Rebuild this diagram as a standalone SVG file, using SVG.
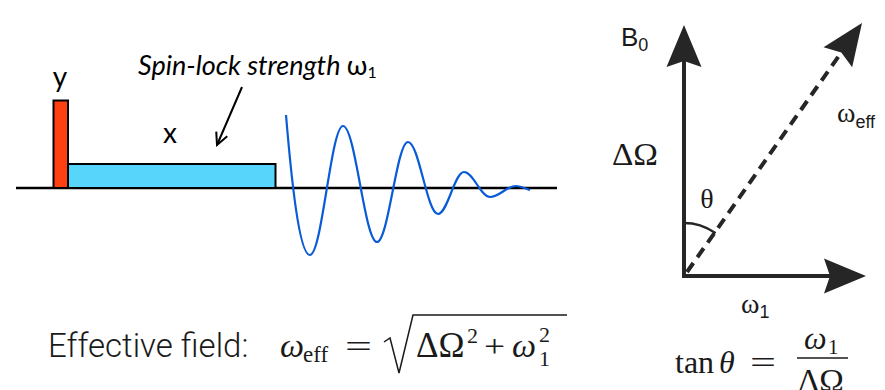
<svg xmlns="http://www.w3.org/2000/svg" width="885" height="390" viewBox="0 0 885 390">
  <style>
    .sans { font-family: "Liberation Sans", Arial, sans-serif; fill: #1a1a1a; }
    .light { font-family: Roboto, "Liberation Sans", sans-serif; font-weight: 300; fill: #1a1a1a; }
    .serif { font-family: "Liberation Serif", "DejaVu Serif", serif; fill: #1a1a1a; }
    .ital { font-style: italic; }
    .gill { font-family: Lato, "Open Sans", sans-serif; fill: #000; }
    .vec { fill: none; stroke: #262626; stroke-width: 4; }
    .pulse { stroke: #000; stroke-width: 2; }
  </style>
  <defs>
    <marker id="head" viewBox="-10 -20 50 40" markerWidth="50" markerHeight="40" refX="0" refY="0" markerUnits="userSpaceOnUse" orient="auto-start-reverse" overflow="visible">
      <path d="M36,0 L-6,-17.5 L0,0 L-6,17.5 Z" fill="#262626"/>
    </marker>
    <marker id="open" viewBox="-14 -8 16 16" markerWidth="16" markerHeight="16" refX="0" refY="0" markerUnits="userSpaceOnUse" orient="auto" overflow="visible">
      <path d="M-12,-6 L0,0 L-12,6" fill="none" stroke="#000" stroke-width="2"/>
    </marker>
  </defs>

  <!-- pulse sequence -->
  <g id="baseline">
    <line x1="16" y1="188" x2="557" y2="188" stroke="#000" stroke-width="2.5"/>
  </g>
  <g id="pulse-y">
    <rect x="53.5" y="100.5" width="14.5" height="87.5" fill="#FF4012" class="pulse"/>
    <text x="60" y="87" class="gill" font-size="28" text-anchor="middle">y</text>
  </g>
  <g id="pulse-x">
    <rect x="68" y="164" width="207.5" height="24" fill="#57D5FA" class="pulse"/>
    <text x="170" y="143" class="gill" font-size="28" text-anchor="middle">x</text>
  </g>
  <g id="spinlock-label">
    <text x="138" y="75" class="gill ital" font-size="27">Spin-lock strength <tspan font-style="normal">ω</tspan><tspan font-size="16" dy="3" font-style="normal">1</tspan></text>
  </g>
  <g id="fid">
    <path d="M286,115 C291,175 299,255 310,255 C322,255 331,126 343,126 C355.4,126 364.6,242 377,242 C388.3,242 396.7,142 408,142 C418.9,142 427.1,214 438,214 C447.5,214 454.5,172 464,172 C473.5,172 480.5,197 490,197 C499.5,197 506.5,186 516,186 C522,186 526,189 530,190" fill="none" stroke="#0A5CD6" stroke-width="2.2"/>
  </g>

  <!-- vector diagram -->
  <g id="axes">
    <path d="M684,61 L684,276 L830,276" class="vec" stroke-linejoin="miter" marker-start="url(#head)" marker-end="url(#head)"/>
    <text x="621" y="46" class="sans" font-size="26">B<tspan font-size="18" dy="5">0</tspan></text>
    <text x="612" y="165" class="serif" font-size="31" textLength="46" lengthAdjust="spacingAndGlyphs">ΔΩ</text>
    <text x="741" y="313" class="serif" font-size="28">ω<tspan class="sans" font-size="18" dy="5">1</tspan></text>
  </g>
  <g id="effective">
    <path d="M687,272 L841.3,52.4" class="vec" stroke-dasharray="11 7" marker-end="url(#head)"/>
    <text x="837" y="122" class="serif" font-size="28">ω<tspan class="sans" font-size="18" dy="6">eff</tspan></text>
  </g>
  <g id="angle">
    <path d="M684,223 A53,53 0 0 1 714.5,232.6 L711.6,236.7" fill="none" stroke="#262626" stroke-width="2.5"/>
    <text x="707" y="208" class="serif" font-size="28" text-anchor="middle">θ</text>
  </g>

  <!-- connectors -->
  <g id="connectors">
    <line x1="242" y1="87" x2="217" y2="145" stroke="#000" stroke-width="2" marker-end="url(#open)"/>
  </g>

  <!-- formulas -->
  <g id="formula-field">
    <text x="48" y="357" class="light" font-size="33">Effective field:</text>
    <text x="280" y="357" class="serif ital" font-size="34">ω</text>
    <text x="303" y="362" class="serif" font-size="23">eff</text>
    <text x="345" y="357" class="serif" font-size="32" textLength="27" lengthAdjust="spacingAndGlyphs">=</text>
    <path d="M384,342 L390,338 L399,373 L413,315 L567,315" fill="none" stroke="#1a1a1a" stroke-width="1.5"/>
    <text x="416" y="357" class="serif" font-size="35">ΔΩ</text>
    <text x="467" y="343" class="serif" font-size="22">2</text>
    <text x="484" y="357" class="serif" font-size="32" textLength="21" lengthAdjust="spacingAndGlyphs">+</text>
    <text x="512" y="357" class="serif ital" font-size="34">ω</text>
    <text x="539" y="342" class="serif" font-size="22">2</text>
    <text x="539" y="366" class="serif" font-size="22">1</text>
  </g>
  <g id="formula-tan">
    <text x="675" y="373" class="serif" font-size="32">tan</text>
    <text x="719" y="373" class="serif ital" font-size="32">θ</text>
    <text x="750" y="373" class="serif" font-size="32" textLength="26" lengthAdjust="spacingAndGlyphs">=</text>
    <line x1="797" y1="358" x2="848" y2="358" stroke="#1a1a1a" stroke-width="1.3"/>
    <text x="804" y="349" class="serif ital" font-size="32">ω</text>
    <text x="828" y="354" class="serif" font-size="21">1</text>
    <text x="798" y="392" class="serif" font-size="33">ΔΩ</text>
  </g>
</svg>
